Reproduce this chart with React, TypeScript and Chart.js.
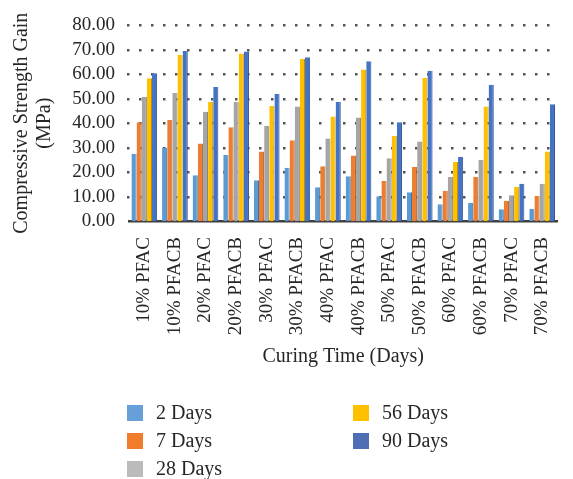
import React, { useEffect, useRef } from "react";
import { Chart, registerables } from "chart.js";

Chart.register(...registerables);

const categories = [
  "10% PFAC", "10% PFACB", "20% PFAC", "20% PFACB", "30% PFAC", "30% PFACB", "40% PFAC",
  "40% PFACB", "50% PFAC", "50% PFACB", "60% PFAC", "60% PFACB", "70% PFAC", "70% PFACB",
];
const seriesNames = ["2 Days", "7 Days", "28 Days", "56 Days", "90 Days"];
const days2 = [27.5, 30, 18.7, 27, 16.7, 21.8, 13.8, 18.3, 10.1, 11.8, 6.9, 7.5, 4.8, 5.0];
const days7 = [40.4, 41.3, 31.7, 38.3, 28.4, 33, 22.4, 26.8, 16.4, 22.1, 12.4, 18, 8.3, 10.3];
const days28 = [50.8, 52.4, 44.7, 48.7, 39, 46.8, 33.7, 42.3, 25.7, 32.5, 18, 25.1, 10.5, 15.2];
const days56 = [58.4, 67.9, 48.7, 68.5, 47, 66.3, 42.7, 62, 34.8, 58.5, 24.1, 46.8, 14, 28.4];
const days90 = [60.4, 69.5, 54.8, 69.3, 52, 67, 48.7, 65.3, 40.4, 61.5, 26.3, 55.7, 15.2, 47.7];
const yMin = 0;
const yMax = 80;
const yStep = 10;

const colors = ["#5B9BD5", "#ED7D31", "#A5A5A5", "#FFC000", "#4472C4"];
const edges = ["#41719C", "#AE5A21", "#7B7B7B", "#BC8C00", "#2F528F"];
const legendColors = ["#67A0D8", "#F07C2C", "#BBBBBB", "#FFC000", "#4E6FB5"];

const FONT = "'Liberation Serif', 'DejaVu Serif', serif";
const TEXT = "#262626";

const dottedGrid = {
  id: "dottedGrid",
  beforeDatasetsDraw(chart: any) {
    const ctx = chart.ctx;
    const y = chart.scales.y;
    const area = chart.chartArea;
    ctx.save();
    ctx.fillStyle = "#555555";
    for (let v = yMin + yStep; v <= yMax; v += yStep) {
      const py = Math.round(y.getPixelForValue(v));
      for (let x = Math.round(area.left) - 2; x < area.right; x += 12) {
        ctx.fillRect(x, py - 1, 2.5, 2.5);
      }
    }
    ctx.restore();
  },
};

const legendPlugin = {
  id: "columnLegend",
  afterDraw(chart: any) {
    const ctx = chart.ctx;
    const cols = [127, 353];
    const rows = [413, 441, 469];
    ctx.save();
    ctx.font = `20px ${FONT}`;
    ctx.textBaseline = "middle";
    ctx.textAlign = "left";
    chart.data.datasets.forEach((ds: any, i: number) => {
      const col = Math.floor(i / 3);
      const row = i % 3;
      const x = cols[col];
      const y = rows[row];
      ctx.fillStyle = legendColors[i];
      ctx.fillRect(x, y - 8, 16, 16);
      ctx.fillStyle = TEXT;
      ctx.fillText(ds.label, x + 29, y + 1);
    });
    ctx.restore();
  },
};

export default function App() {
  const ref = useRef<HTMLCanvasElement | null>(null);
  useEffect(() => {
    if (!ref.current) return;
    const all = [days2, days7, days28, days56, days90];
    const chart = new Chart(ref.current, {
      type: "bar",
      data: {
        labels: categories,
        datasets: all.map((d, i) => ({
          label: seriesNames[i],
          data: d,
          backgroundColor: colors[i],
          borderColor: edges[i],
          borderWidth: { top: 0, right: 1, bottom: 0, left: 0 },
          categoryPercentage: 0.84,
          barPercentage: 1.0,
        })),
      },
      options: {
        animation: false,
        responsive: true,
        maintainAspectRatio: false,
        layout: { padding: { top: 21, right: 2, bottom: 109, left: 0 } },
        plugins: {
          legend: { display: false },
          tooltip: { enabled: false },
        },
        scales: {
          x: {
            grid: { display: false },
            border: { display: true, color: "#404040", width: 2.5 },
            ticks: {
              color: TEXT,
              font: { family: FONT, size: 19 },
              minRotation: 90,
              maxRotation: 90,
              padding: 8,
              autoSkip: false,
            },
            title: {
              display: true,
              text: "Curing Time (Days)",
              color: TEXT,
              font: { family: FONT, size: 20, lineHeight: 1.15 },
              padding: { top: 0, bottom: 1.5 },
            },
            afterFit(scale: any) {
              scale.height = 149;
            },
          },
          y: {
            min: yMin,
            max: yMax,
            border: { display: false },
            grid: { display: false, drawTicks: false },
            ticks: {
              stepSize: yStep,
              autoSkip: false,
              color: TEXT,
              font: { family: FONT, size: 19 },
              padding: 14,
              callback: (v: any) => Number(v).toFixed(2),
            },
            title: {
              display: true,
              text: ["Compressive Strength Gain", "(MPa)"],
              color: TEXT,
              font: { family: FONT, size: 20, lineHeight: 1.15 },
              padding: { top: 10.5, bottom: 0 },
            },
            afterFit(scale: any) {
              scale.width = 129;
            },
          },
        },
      },
      plugins: [dottedGrid, legendPlugin],
    } as any);
    return () => chart.destroy();
  }, []);
  return (
    <div style={{ position: "absolute", left: 0, top: 0, width: 573, height: 479 }}>
      <canvas ref={ref} />
    </div>
  );
}
